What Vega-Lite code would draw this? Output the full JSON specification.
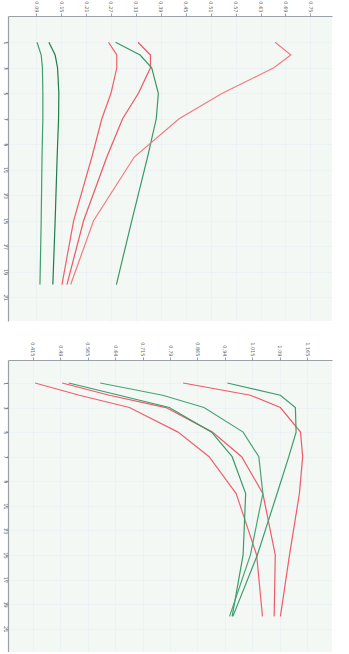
{
  "$schema": "https://vega.github.io/schema/vega-lite/v6.json",
  "padding": {"left": 2, "top": 0, "right": 5, "bottom": 0},
  "background": "#ffffff",
  "spacing": 39,
  "bounds": "flush",
  "resolve": {"scale": {"color": "independent", "x": "independent", "y": "independent"}},
  "config": {
    "view": {"fill": "#f3f8f5", "stroke": null},
    "axis": {
      "domainColor": "#9aa0a6", "domainWidth": 1.2, "tickColor": "#9aa0a6", "tickSize": 3,
      "labelColor": "#666666", "labelFontSize": 5, "labelFont": "DejaVu Sans",
      "gridColor": "#e6eef3", "gridWidth": 0.5, "title": null
    }
  },
  "datasets": {
    "top": [
      {"s": "g1", "step": 1, "v": 0.092}, {"s": "g1", "step": 2, "v": 0.102}, {"s": "g1", "step": 3, "v": 0.105}, {"s": "g1", "step": 5, "v": 0.106}, {"s": "g1", "step": 7, "v": 0.106}, {"s": "g1", "step": 10, "v": 0.104}, {"s": "g1", "step": 15, "v": 0.102}, {"s": "g1", "step": 20, "v": 0.099},
      {"s": "g2", "step": 1, "v": 0.1205}, {"s": "g2", "step": 2, "v": 0.1356}, {"s": "g2", "step": 3, "v": 0.1414}, {"s": "g2", "step": 5, "v": 0.1445}, {"s": "g2", "step": 7, "v": 0.1438}, {"s": "g2", "step": 10, "v": 0.1404}, {"s": "g2", "step": 15, "v": 0.1356}, {"s": "g2", "step": 20, "v": 0.130},
      {"s": "r1", "step": 1, "v": 0.264}, {"s": "r1", "step": 2, "v": 0.284}, {"s": "r1", "step": 3, "v": 0.284}, {"s": "r1", "step": 5, "v": 0.27}, {"s": "r1", "step": 7, "v": 0.248}, {"s": "r1", "step": 10, "v": 0.224}, {"s": "r1", "step": 15, "v": 0.18}, {"s": "r1", "step": 20, "v": 0.152},
      {"s": "r2", "step": 1, "v": 0.335}, {"s": "r2", "step": 2, "v": 0.365}, {"s": "r2", "step": 3, "v": 0.365}, {"s": "r2", "step": 5, "v": 0.336}, {"s": "r2", "step": 7, "v": 0.298}, {"s": "r2", "step": 10, "v": 0.26}, {"s": "r2", "step": 15, "v": 0.204}, {"s": "r2", "step": 20, "v": 0.164},
      {"s": "g3", "step": 1, "v": 0.281}, {"s": "g3", "step": 2, "v": 0.34}, {"s": "g3", "step": 3, "v": 0.368}, {"s": "g3", "step": 5, "v": 0.384}, {"s": "g3", "step": 7, "v": 0.379}, {"s": "g3", "step": 10, "v": 0.358}, {"s": "g3", "step": 15, "v": 0.32}, {"s": "g3", "step": 20, "v": 0.283},
      {"s": "r3", "step": 1, "v": 0.665}, {"s": "r3", "step": 2, "v": 0.703}, {"s": "r3", "step": 3, "v": 0.662}, {"s": "r3", "step": 5, "v": 0.538}, {"s": "r3", "step": 7, "v": 0.434}, {"s": "r3", "step": 10, "v": 0.326}, {"s": "r3", "step": 15, "v": 0.228}, {"s": "r3", "step": 20, "v": 0.173}
    ],
    "bottom": [
      {"s": "rA", "step": 1, "v": 0.421}, {"s": "rA", "step": 2, "v": 0.542}, {"s": "rA", "step": 3, "v": 0.679}, {"s": "rA", "step": 5, "v": 0.812}, {"s": "rA", "step": 7, "v": 0.897}, {"s": "rA", "step": 10, "v": 0.971}, {"s": "rA", "step": 15, "v": 1.027}, {"s": "rA", "step": 20, "v": 1.043},
      {"s": "rB", "step": 1, "v": 0.495}, {"s": "rB", "step": 2, "v": 0.624}, {"s": "rB", "step": 3, "v": 0.779}, {"s": "rB", "step": 5, "v": 0.906}, {"s": "rB", "step": 7, "v": 0.986}, {"s": "rB", "step": 10, "v": 1.044}, {"s": "rB", "step": 15, "v": 1.078}, {"s": "rB", "step": 20, "v": 1.075},
      {"s": "gA", "step": 1, "v": 0.513}, {"s": "gA", "step": 2, "v": 0.651}, {"s": "gA", "step": 3, "v": 0.788}, {"s": "gA", "step": 5, "v": 0.904}, {"s": "gA", "step": 7, "v": 0.96}, {"s": "gA", "step": 10, "v": 0.997}, {"s": "gA", "step": 15, "v": 0.99}, {"s": "gA", "step": 20, "v": 0.96},
      {"s": "gB", "step": 1, "v": 0.599}, {"s": "gB", "step": 2, "v": 0.77}, {"s": "gB", "step": 3, "v": 0.883}, {"s": "gB", "step": 5, "v": 0.99}, {"s": "gB", "step": 7, "v": 1.033}, {"s": "gB", "step": 10, "v": 1.044}, {"s": "gB", "step": 15, "v": 1.01}, {"s": "gB", "step": 20, "v": 0.953},
      {"s": "rC", "step": 1, "v": 0.826}, {"s": "rC", "step": 2, "v": 1.01}, {"s": "rC", "step": 3, "v": 1.092}, {"s": "rC", "step": 5, "v": 1.147}, {"s": "rC", "step": 7, "v": 1.153}, {"s": "rC", "step": 10, "v": 1.144}, {"s": "rC", "step": 15, "v": 1.117}, {"s": "rC", "step": 20, "v": 1.092},
      {"s": "gC", "step": 1, "v": 0.947}, {"s": "gC", "step": 2, "v": 1.092}, {"s": "gC", "step": 3, "v": 1.133}, {"s": "gC", "step": 5, "v": 1.135}, {"s": "gC", "step": 7, "v": 1.115}, {"s": "gC", "step": 10, "v": 1.083}, {"s": "gC", "step": 15, "v": 1.029}, {"s": "gC", "step": 20, "v": 0.962}
    ]
  },
  "vconcat": [
    {
      "width": 324, "height": 305,
      "data": {"name": "top"},
      "mark": {"type": "line", "strokeWidth": 1.2},
      "encoding": {
        "x": {"field": "v", "type": "quantitative",
              "scale": {"domain": [0.0221, 0.802], "nice": false, "zero": false},
              "axis": {"orient": "top", "values": [0.09, 0.15, 0.21, 0.27, 0.33, 0.39, 0.45, 0.51, 0.57, 0.63, 0.69, 0.75], "format": ".2f", "labelAngle": 90, "labelAlign": "right", "labelBaseline": "middle", "labelPadding": 1}},
        "y": {"field": "step", "type": "quantitative",
              "scale": {"domain": [-1.06, 22.86], "nice": false, "zero": false, "reverse": true},
              "axis": {"orient": "left", "values": [1, 3, 5, 7, 9, 11, 13, 15, 17, 19, 21], "labelAngle": 90, "labelAlign": "center", "labelBaseline": "bottom", "labelPadding": 3}},
        "order": {"field": "step", "type": "quantitative"},
        "color": {"field": "s", "type": "nominal", "legend": null,
                  "scale": {"domain": ["g1", "g2", "g3", "r1", "r2", "r3"], "range": ["#3f9e6e", "#1f7d47", "#3a9865", "#ef5d68", "#ee5663", "#f27a80"]}}
      }
    },
    {
      "width": 324, "height": 292,
      "data": {"name": "bottom"},
      "mark": {"type": "line", "strokeWidth": 1.2},
      "encoding": {
        "x": {"field": "v", "type": "quantitative",
              "scale": {"domain": [0.3468, 1.2332], "nice": false, "zero": false},
              "axis": {"orient": "top", "values": [0.415, 0.49, 0.565, 0.64, 0.715, 0.79, 0.865, 0.94, 1.015, 1.09, 1.165], "format": ".3~f", "labelAngle": 90, "labelAlign": "right", "labelBaseline": "middle", "labelPadding": 1}},
        "y": {"field": "step", "type": "quantitative",
              "scale": {"domain": [-0.87, 22.9], "nice": false, "zero": false, "reverse": true},
              "axis": {"orient": "left", "values": [1, 3, 5, 7, 9, 11, 13, 15, 17, 19, 21], "labelAngle": 90, "labelAlign": "center", "labelBaseline": "bottom", "labelPadding": 3}},
        "order": {"field": "step", "type": "quantitative"},
        "color": {"field": "s", "type": "nominal", "legend": null,
                  "scale": {"domain": ["gA", "gB", "gC", "rA", "rB", "rC"], "range": ["#3d9a6a", "#4aa276", "#3f9c6c", "#ef6070", "#ee5a68", "#f05a66"]}}
      }
    }
  ]
}
